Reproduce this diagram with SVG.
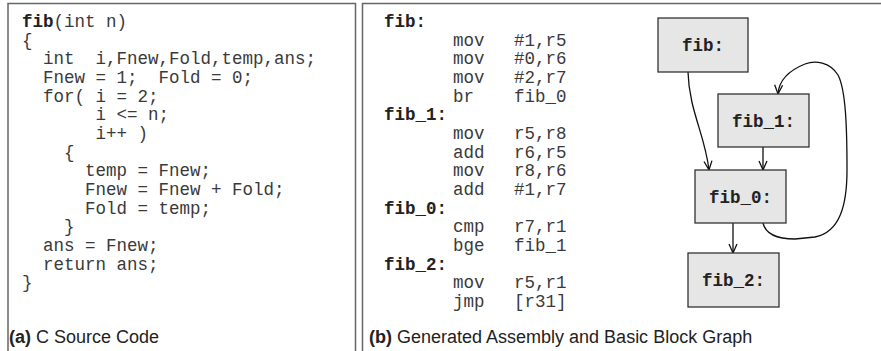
<svg xmlns="http://www.w3.org/2000/svg" width="881" height="351" viewBox="0 0 881 351">
  <style>
    .panel { fill: none; stroke: #666; stroke-width: 1.5; }
    .code { font-family: "Liberation Mono", "Courier New", monospace; font-size: 17.5px; fill: #3a3a3a; white-space: pre; }
    .kw { font-weight: bold; fill: #222; }
    .cap { font-family: "Liberation Sans", Arial, sans-serif; font-size: 18px; fill: #222; }
    .cap .b { font-weight: bold; }
    .box { fill: #e6e6e6; stroke: #333; stroke-width: 1.3; }
    .lbl { font-family: "Liberation Mono", "Courier New", monospace; font-size: 17.5px; font-weight: bold; fill: #222; text-anchor: middle; }
    .edge { fill: none; stroke: #111; stroke-width: 1.3; marker-end: url(#arrow); }
  </style>
  <defs>
    <marker id="arrow" markerUnits="userSpaceOnUse" markerWidth="12" markerHeight="12" viewBox="-10 -6 12 12" refX="0" refY="0" orient="auto">
      <path d="M-9,-4 L0,0 L-9,4" fill="none" stroke="#111" stroke-width="1.3"/>
    </marker>
  </defs>

  <rect width="881" height="351" fill="#fff"/>

  <!-- panel frames, open at the bottom -->
  <path class="panel" d="M8,352 V3.5 H355.5 V352"/>
  <path class="panel" d="M362.5,352 V3.5 H881"/>

  <!-- (a) C source; one column = 10.5px -->
  <g id="c-source" class="code">
    <text x="22" y="27"><tspan class="kw">fib</tspan>(int n)</text>
    <text x="22" y="45.7">{</text>
    <text x="43" y="64.3">int<tspan x="95.5">i,Fnew,Fold,temp,ans;</tspan></text>
    <text x="43" y="83">Fnew = 1;<tspan x="158.5">Fold = 0;</tspan></text>
    <text x="43" y="101.6">for( i = 2;</text>
    <text x="95.5" y="120.3">i &lt;= n;</text>
    <text x="95.5" y="138.9">i++ )</text>
    <text x="64" y="157.6">{</text>
    <text x="85" y="176.2">temp = Fnew;</text>
    <text x="85" y="194.9">Fnew = Fnew + Fold;</text>
    <text x="85" y="213.5">Fold = temp;</text>
    <text x="64" y="232.2">}</text>
    <text x="43" y="250.8">ans = Fnew;</text>
    <text x="43" y="269.5">return ans;</text>
    <text x="22" y="288.1">}</text>
  </g>
  <text class="cap" x="9" y="343"><tspan class="b">(a)</tspan> C Source Code</text>

  <!-- (b) assembly listing -->
  <g id="assembly" class="code">
    <text class="kw" x="384" y="27">fib:</text>
    <text x="453" y="45.7">mov</text><text x="514" y="45.7">#1,r5</text>
    <text x="453" y="64.3">mov</text><text x="514" y="64.3">#0,r6</text>
    <text x="453" y="83">mov</text><text x="514" y="83">#2,r7</text>
    <text x="453" y="101.6">br</text><text x="514" y="101.6">fib_0</text>
    <text class="kw" x="384" y="120.3">fib_1:</text>
    <text x="453" y="138.9">mov</text><text x="514" y="138.9">r5,r8</text>
    <text x="453" y="157.6">add</text><text x="514" y="157.6">r6,r5</text>
    <text x="453" y="176.2">mov</text><text x="514" y="176.2">r8,r6</text>
    <text x="453" y="194.9">add</text><text x="514" y="194.9">#1,r7</text>
    <text class="kw" x="384" y="213.5">fib_0:</text>
    <text x="453" y="232.2">cmp</text><text x="514" y="232.2">r7,r1</text>
    <text x="453" y="250.8">bge</text><text x="514" y="250.8">fib_1</text>
    <text class="kw" x="384" y="269.5">fib_2:</text>
    <text x="453" y="288.1">mov</text><text x="514" y="288.1">r5,r1</text>
    <text x="453" y="306.8">jmp</text><text x="514" y="306.8">[r31]</text>
  </g>
  <text class="cap" x="369" y="343"><tspan class="b">(b)</tspan> Generated Assembly and Basic Block Graph</text>

  <!-- basic block graph -->
  <g id="connectors">
    <path class="edge" d="M688,72 C689,110 705,135 709,170"/>
    <path class="edge" d="M763,147 V170"/>
    <path class="edge" d="M733,223 V253"/>
    <path class="edge" d="M763,223 C766,236 780,239 795,239 L815,237 C840,232 847,205 847,170 C847,130 846,90 838,75 C830,62 815,60 805,64 C790,70 779,80 778,94"/>
  </g>
  <g id="node-fib">
    <rect class="box" x="658" y="18" width="90" height="54"/>
    <text class="lbl" x="703" y="51">fib:</text>
  </g>
  <g id="node-fib_1">
    <rect class="box" x="718" y="94" width="91" height="53"/>
    <text class="lbl" x="763.5" y="126.5">fib_1:</text>
  </g>
  <g id="node-fib_0">
    <rect class="box" x="695" y="170" width="91" height="53"/>
    <text class="lbl" x="740.5" y="202.5">fib_0:</text>
  </g>
  <g id="node-fib_2">
    <rect class="box" x="688" y="253" width="91" height="54"/>
    <text class="lbl" x="733.5" y="285.5">fib_2:</text>
  </g>
</svg>
